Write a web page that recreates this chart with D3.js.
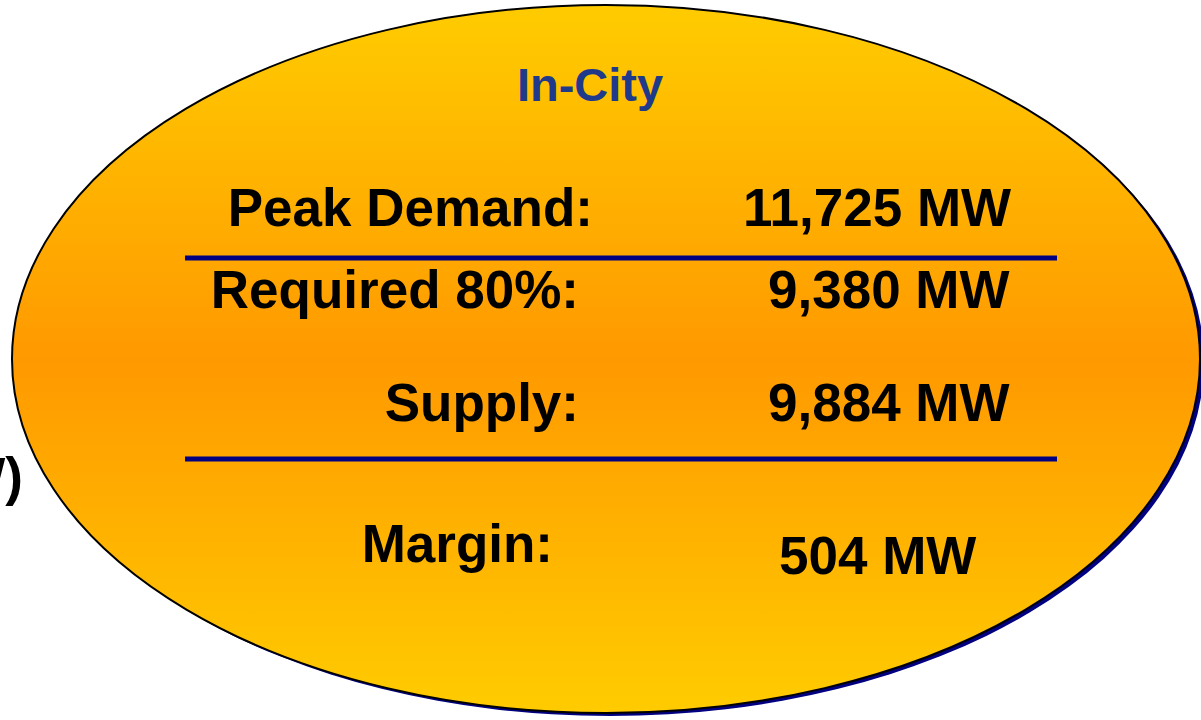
<!DOCTYPE html>
<html>
<head>
<meta charset="utf-8">
<script src="https://cdn.jsdelivr.net/npm/d3@7"></script>
<style>
  html, body { margin: 0; padding: 0; background: #fff; overflow: hidden; }
  svg text { font-family: "Liberation Sans", Arial, Helvetica, sans-serif; font-weight: bold; }
</style>
</head>
<body>
<svg id="chart" width="1201" height="720"></svg>
<script>
// data
const title = "In-City";
const labels = ["Peak Demand:", "Required 80%:", "Supply:", "Margin:"];
const values = [11725, 9380, 9884, 504];
const unit = "MW";
const sideNote = "(MW)";

// layout
const rowBaselines = [226, 308, 421, 562];
const valueBaselines = [226, 308, 421, 574];
const labelEnds = [593, 579, 579, 553];
const valueStarts = [743, 768, 768, 779];
const dividerY = [258, 459];

const svg = d3.select("#chart");
const width = 1201, height = 720;

const fmt = d3.format(",");

const defs = svg.append("defs");
const grad = defs.append("linearGradient")
    .attr("id", "ovalFill")
    .attr("gradientUnits", "userSpaceOnUse")
    .attr("x1", 0).attr("y1", 5)
    .attr("x2", 0).attr("y2", 713);
grad.selectAll("stop")
    .data([
        { o: 0, c: "#FFCC00" },
        { o: 0.5, c: "#FF9900" },
        { o: 1, c: "#FFCC00" }
    ])
    .join("stop")
    .attr("offset", d => d.o)
    .attr("stop-color", d => d.c);

// fragment of a label sitting off the left edge
svg.append("text")
    .attr("x", 23)
    .attr("y", 495)
    .attr("text-anchor", "end")
    .style("font-size", "53px")
    .attr("fill", "#000")
    .text(sideNote);

const cx = 606, cy = 359, rx = 594, ry = 354;

// shadow
svg.append("ellipse")
    .attr("cx", cx + 4).attr("cy", cy + 3)
    .attr("rx", rx).attr("ry", ry)
    .attr("fill", "#000080");

// oval
svg.append("ellipse")
    .attr("cx", cx).attr("cy", cy)
    .attr("rx", rx).attr("ry", ry)
    .attr("fill", "url(#ovalFill)")
    .attr("stroke", "#000")
    .attr("stroke-width", 2);

svg.append("text")
    .attr("x", 590)
    .attr("y", 101)
    .attr("text-anchor", "middle")
    .style("font-size", "47px")
    .attr("fill", "#1F3A8A")
    .text(title);

const rowY = d3.scaleOrdinal().domain(labels).range(rowBaselines);
const valY = d3.scaleOrdinal().domain(labels).range(valueBaselines);

const rows = labels.map((l, i) => ({ label: l, value: values[i], end: labelEnds[i], start: valueStarts[i] }));

svg.append("g")
    .selectAll("text")
    .data(rows)
    .join("text")
    .attr("x", d => d.end)
    .attr("y", d => rowY(d.label))
    .attr("text-anchor", "end")
    .style("font-size", "53px")
    .attr("fill", "#000")
    .text(d => d.label);

svg.append("g")
    .selectAll("text")
    .data(rows)
    .join("text")
    .attr("x", d => d.start)
    .attr("y", d => valY(d.label))
    .attr("text-anchor", "start")
    .style("font-size", "53px")
    .attr("fill", "#000")
    .text(d => `${fmt(d.value)} ${unit}`);

svg.append("g")
    .selectAll("line")
    .data(dividerY)
    .join("line")
    .attr("x1", 185).attr("x2", 1057)
    .attr("y1", d => d).attr("y2", d => d)
    .attr("stroke", "#000080")
    .attr("stroke-width", 5);
</script>
</body>
</html>
